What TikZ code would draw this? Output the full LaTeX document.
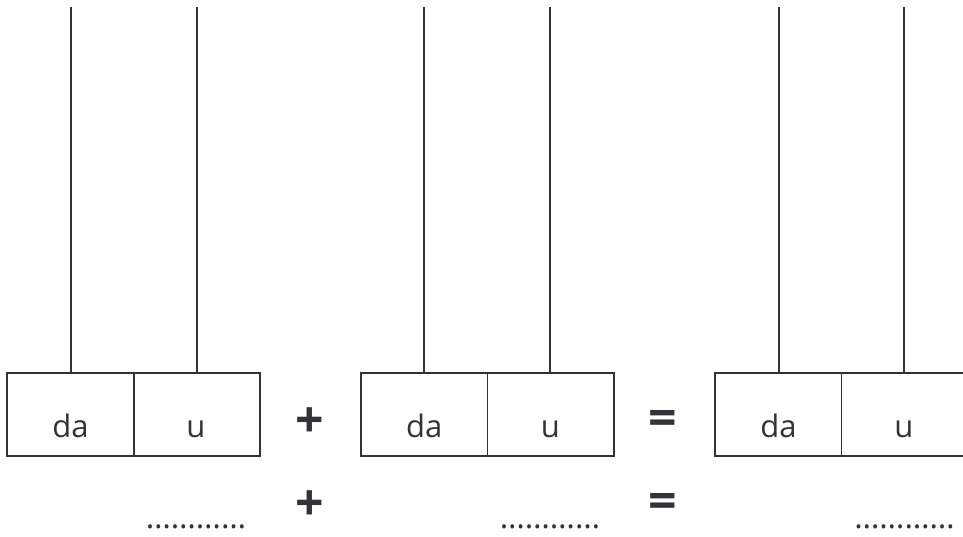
\documentclass[tikz,border=0pt]{standalone}
\usepackage{fontspec}
\setmainfont{Open Sans}
\definecolor{ink}{RGB}{50,50,55}
\begin{document}
\begin{tikzpicture}[x=1pt,y=-1pt,
  cell/.style={draw=ink,line width=1.8pt,minimum width=126.5pt,minimum height=83pt,inner sep=0pt,outer sep=0pt,anchor=north west},
  rod/.style={draw=ink,line width=1.8pt},
  lbl/.style={text=ink,font=\fontsize{31}{31}\selectfont,anchor=base},
  op/.style={text=ink,font=\bfseries\fontsize{50}{50}\selectfont},
  dots/.style={text=ink,font=\fontsize{32}{32}\selectfont,anchor=base}]
\useasboundingbox (0,0) rectangle (963,536);
% boxes
\node[cell] (a1) at (7.3,373) {};
\node[cell] (a2) at (133.8,373) {};
\node[cell] (b1) at (361,373) {};
\node[cell] (b2) at (487.5,373) {};
\node[cell] (c1) at (715,373) {};
\node[cell] (c2) at (841.5,373) {};
% labels
\node[lbl] (la1) at (70.5,437) {da};
\node[lbl] (la2) at (196,437) {u};
\node[lbl] (lb1) at (424.3,437) {da};
\node[lbl] (lb2) at (550.5,437) {u};
\node[lbl] (lc1) at (778.5,437) {da};
\node[lbl] (lc2) at (904,437) {u};
% rods
\foreach \n/\x in {a1/71,a2/196.7,b1/423.7,b2/550,c1/779,c2/903.7}{
  \coordinate (t\n) at (\x,7);
  \draw[rod] (t\n) -- (t\n |- \n.north);
}
% operators
\node[op] (p1) at (309.5,423) {+};
\node[op] (e1) at (663,423) {=};
\node[op] (p2) at (309.5,506) {+};
\node[op] (e2) at (663,506) {=};
% dotted answer lines
\node[dots] (d1) at (196,528) {…………};
\node[dots] (d2) at (550,528) {…………};
\node[dots] (d3) at (904.5,528) {…………};
\end{tikzpicture}
\end{document}
